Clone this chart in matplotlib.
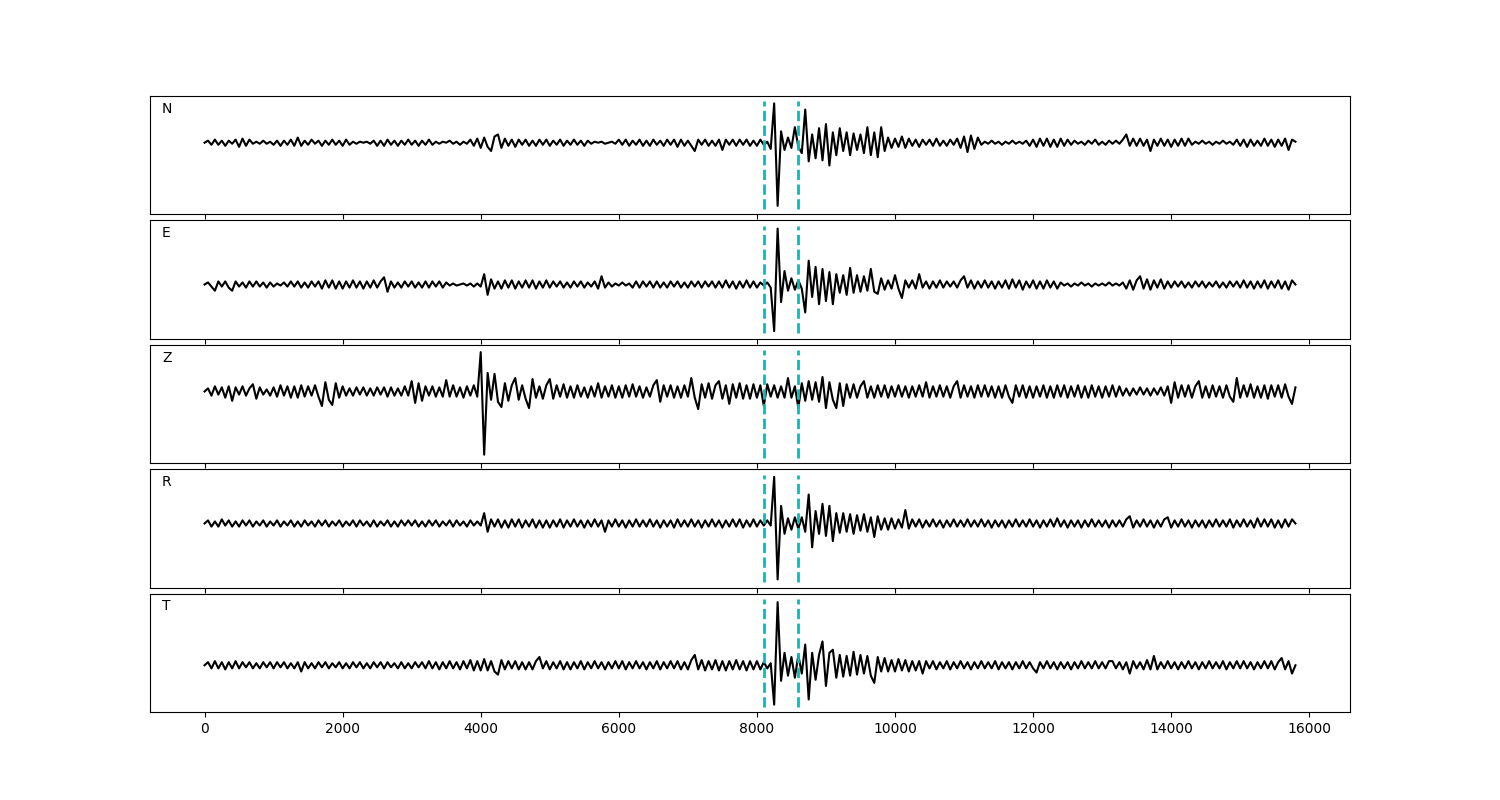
import numpy as np
import matplotlib
matplotlib.use("Agg")
import matplotlib.pyplot as plt

# sample interval of the traces (data units on the x axis)
dt = 50
channels = ["N", "E", "Z", "R", "T"]
picks = [8100, 8600]

N = [0, 2, -2, 3, -2, 2, -3, 2, -1, 3, -4, 4, -3, 3, -1, 1, -1, 2, -1, 1,
     -2, 2, -3, 2, -2, 3, -3, 5, -3, 2, -2, 3, -1, 2, -3, 2, -2, 3, -2, 2,
     -3, 3, -2, 1, -1, 1, 0, 1, -1, 2, -3, 2, -3, 3, -2, 2, -3, 2, -2, 3,
     -2, 2, -3, 2, -2, 3, -2, 1, -1, 1, 0, 2, -1, 1, -2, 1, -1, 3, -3, 4,
     -5, 5, -4, -8, 6, 8, -5, 4, -3, 3, -4, 3, -2, 3, -3, 2, -3, 3, -2, 3,
     -3, 2, -2, 3, -3, 2, -2, 3, -2, 2, -3, 2, -1, 1, 0, 1, -1, 0, 1, -1,
     3, -2, 3, -3, 2, -2, 3, -3, 2, -3, 3, -2, 2, -3, 3, -2, 3, -4, 3, -3,
     2, -3, -8, 3, -2, 3, -3, 2, -3, 3, -7, 3, -2, 3, -3, 3, -2, 3, -3, 2,
     -3, 3, -2, 1, -6, 38, -61, 11, -7, 5, -5, 15, -4, -10, 32, -18, 8, -15, 14, -17,
     18, -22, 10, -12, 14, -8, 10, -12, 9, -7, 8, -10, 15, -12, 10, -14, 15, -8, 5, -5,
     4, -4, 6, -5, 4, -3, 3, -4, 3, -2, 3, -3, 4, -3, 2, -3, 3, -2, 4, -5,
     6, -9, 7, -6, 5, -2, 1, -1, 2, -1, 1, -2, 1, -1, 2, -1, 1, -1, 2, -3,
     3, -4, 4, -3, 4, -4, 3, -4, 4, -3, 3, -2, 2, -1, 1, -2, 2, -1, 3, -2,
     1, -2, 2, -1, 2, -1, 3, 8, -3, 4, -3, 4, -3, 3, -8, 3, -3, 4, -3, 3,
     -4, 3, -3, 4, -3, 4, -2, 1, -1, 2, -1, 1, -2, 1, -1, 2, -1, 1, -2, 3,
     -3, 3, -4, 3, -3, 2, -3, 4, -3, 3, -4, 3, -3, 4, -7, 3, 1]

E = [0, 2, -2, -6, 3, -2, 3, -3, -6, 3, -2, 2, -3, 3, -2, 3, -2, 2, -3, 2,
     -2, 1, -1, 2, -2, 3, -2, 3, -3, 2, -3, 3, -2, 3, -4, 4, -3, 4, -4, 3,
     -4, 3, -3, 4, -3, 3, -4, 3, -3, 4, -3, 3, 7, -7, 3, -3, 2, -3, 3, -2,
     3, -3, 2, -3, 3, -3, 3, -2, 3, -3, 2, -1, 1, -1, 0, 1, -1, 1, -2, 1,
     -2, 10, -10, 5, -4, 3, -4, 4, -3, 4, -4, 3, -3, 4, -3, 4, -4, 3, -3, 4,
     -3, 3, -2, 3, -3, 2, -3, 3, -2, 3, -3, 2, -2, 3, -4, 8, -3, 2, -2, 1,
     -1, 2, -1, 1, -3, 3, -3, 3, -2, 3, -3, 3, -3, 2, -3, 3, -2, 3, -3, 2,
     -3, 3, -2, 3, -3, 3, -2, 3, -3, 3, -3, 4, -3, 3, -4, 3, -3, 4, -3, 3,
     -3, 2, -1, 2, -3, -45, 54, -17, 13, -6, 6, -5, 4, -4, -27, 23, -12, 17, -19, 15,
     -16, 12, -19, 10, -8, 9, -10, 16, -8, 9, -7, 8, -6, 15, -7, -9, 6, -5, 4, -4,
     9, -4, -13, 4, -3, 4, -4, 10, -3, 3, -4, 3, -3, 4, -3, 3, -2, 3, -3, 4,
     8, -3, 4, -4, 3, -3, 4, -3, 3, -4, 3, -3, 4, -4, 5, -3, 4, -5, 3, -3,
     4, -4, 3, -4, 4, -3, 3, -4, 2, -1, 1, -2, 1, -1, 2, -1, 1, -2, 1, -1,
     1, -1, 2, -1, 1, -1, 2, -4, 4, -5, 4, 8, -4, 5, -5, 4, -3, 5, -4, 3,
     -3, 3, -2, 3, -3, 2, -3, 3, -2, 3, -3, 2, -2, 3, -3, 2, -3, 3, -2, 3,
     -3, 4, -3, 3, -4, 3, -3, 4, -4, 3, -3, 4, -4, 3, -5, 4, 0]

Z = [0, 3, -4, 5, -3, 4, -6, 5, -9, 4, -3, 5, -4, 3, 7, -7, 4, -3, 2, -4,
     4, -5, 6, -4, 5, -6, 5, -6, 6, -5, 5, -4, 6, -5, -14, 9, -8, -13, 8, -6,
     5, -4, 3, -4, 4, -3, 4, -4, 3, -4, 4, -3, 4, -5, 4, -4, 3, -4, 5, -4,
     10, -11, 8, -9, 5, -4, 5, -5, 4, -5, 11, -5, 6, -5, 4, -6, 5, -4, 6, -5,
     38, -61, 18, -8, 17, -10, -15, 8, -9, 6, 13, -8, 6, -7, -16, 12, -6, 5, -7, 6,
     12, -7, 6, -5, 7, -6, 5, -6, 6, -5, 4, -6, 5, -5, 8, -6, 5, -5, 6, -6,
     5, -6, 6, -5, 7, -5, 5, -6, 4, -5, 6, 11, -10, 6, -5, 6, -6, 5, -6, 6,
     -5, 13, -6, -17, 7, -6, 8, -7, 6, 10, -7, 6, -12, 7, -6, 8, -7, 6, -7, 7,
     -6, 6, -14, 7, -5, 6, -6, 5, -6, 13, -6, 5, -16, 8, -9, 10, -8, 9, -10, 14,
     -16, 9, -8, -16, 8, -14, 7, -6, 7, -6, 5, 10, -6, 5, -6, 6, -5, 6, -6, 5,
     -5, 6, -5, 5, -6, 5, -5, 6, -5, 9, -6, 5, -5, 6, -5, 5, -6, 5, 10, -6,
     6, -5, 5, -6, 6, -5, 6, -5, 5, -6, 5, -6, 6, -5, -11, 6, -5, 6, -6, 5,
     -6, 5, -5, 6, -6, 5, -6, 6, -5, 6, -6, 5, -5, 6, -6, 5, -6, 6, -5, 5,
     -6, 5, -5, 6, -5, 5, -4, 3, -4, 3, -3, 4, -3, 3, -4, 3, -3, 4, -4, 5,
     -11, 9, -6, 6, -5, 6, -6, 5, 10, -6, 5, -6, 6, -5, 5, -6, 6, -5, -10, 13,
     -6, 6, -5, 7, -6, 5, -6, 6, -7, 6, -5, 6, -6, 7, -5, -12, 4]

R = [0, 3, -3, 2, -3, 4, -2, 3, -3, 2, -3, 3, -2, 3, -3, 2, -2, 3, -3, 2,
     -2, 3, -3, 2, -2, 3, -3, 2, -3, 3, -2, 2, -3, 3, -2, 3, -3, 2, -2, 3,
     -3, 2, -2, 3, -3, 3, -2, 2, -3, 3, -3, 2, -2, 3, -3, 2, -3, 3, -2, 3,
     -2, 3, -3, 2, -3, 3, -2, 3, -3, 2, -2, 3, -3, 3, -2, 2, -3, 3, -2, 2,
     -2, 10, -8, 4, -3, 4, -4, 3, -4, 4, -3, 4, -4, 3, -3, 4, -4, 3, -4, 3,
     -4, 3, -3, 4, -4, 3, -3, 4, -3, 3, -4, 3, -3, 4, -3, 3, -8, 3, -3, 4,
     -3, 3, -4, 3, -3, 4, -3, 3, -3, 4, -3, 3, -4, 3, -3, 3, -4, 4, -3, 3,
     -3, 4, -3, 3, -4, 3, -3, 4, -3, 3, -4, 3, -3, 4, -3, 4, -4, 3, -3, 4,
     -3, 3, -2, 3, -2, 45, -54, 17, -10, 5, -6, 6, -5, 6, -8, 28, -23, 12, -10, 19,
     -12, 17, -17, 10, -9, 10, -8, 9, -10, 8, -7, 9, -8, 6, -13, 7, -6, 5, -6, 5,
     -5, 4, -4, 13, -5, 4, -3, 4, -4, 3, -3, 4, -3, 3, -4, 3, -3, 4, -3, 3,
     -3, 4, -3, 3, -3, 4, -3, 3, -4, 3, -3, 3, -4, 3, -3, 4, -3, 3, -3, 4,
     -3, 3, -4, 3, -3, 4, -3, 5, -3, 3, -4, 3, -3, 3, -4, 3, -3, 4, -3, 3,
     -3, 3, -4, 3, -3, 3, -3, 4, 7, -4, 3, -3, 4, -3, 3, -4, 3, -3, 4, 6,
     -4, 3, -3, 4, -3, 3, -4, 3, -3, 3, -4, 3, -3, 4, -3, 3, -3, 4, -4, 3,
     -3, 4, -3, 3, -4, 5, -3, 4, -3, 4, -4, 3, -4, 4, -3, 4, 0]

T = [0, 3, -3, 4, -3, 3, -4, 3, -3, 4, -3, 3, -2, 3, -3, 2, -3, 3, -2, 3,
     -3, 3, -2, 3, -3, 2, -3, 3, -6, 3, -3, 2, -3, 3, -2, 3, -3, 2, -2, 3,
     -3, 2, -3, 3, -2, 3, -3, 2, -3, 3, -2, 3, -3, 3, -2, 2, -3, 3, -3, 2,
     -3, 3, -2, 3, -3, 4, -3, 3, -4, 3, -3, 4, -3, 3, -4, 4, -3, 5, -5, 4,
     -5, 6, -5, 4, -6, -9, 5, -4, 4, -3, 4, -4, 3, -4, 3, -4, 4, 8, -3, 4,
     -4, 3, -3, 4, -4, 3, -4, 3, -3, 4, -4, 3, -3, 4, -3, 3, -4, 3, -3, 4,
     -3, 4, -4, 3, -3, 4, -3, 3, -4, 3, -3, 4, -4, 3, -3, 4, -3, 4, -4, 3,
     -4, 5, 10, -4, 5, -5, 4, -4, 5, -5, 4, -5, 4, -4, 5, -4, 4, -5, 4, -4,
     4, -4, 3, -3, 2, -38, 61, -15, 12, -10, 8, -12, 10, -8, 20, -33, 12, -14, 10, 23,
     -20, 12, 15, -12, 10, -11, 9, -10, 13, -9, 10, -8, 9, -10, -17, 8, -6, 7, -6, 5,
     -6, 6, -5, 5, -6, 4, -5, 4, -8, 4, -3, 4, -4, 3, -3, 4, -4, 3, -3, 4,
     -3, 3, -4, 3, -3, 4, -3, 3, -3, 4, -4, 3, -3, 3, -4, 3, -3, 4, -3, 3,
     -3, -7, 3, -3, 4, -3, 3, -4, 3, -3, 3, -4, 3, -3, 4, -3, 3, -3, 4, -3,
     3, -3, 4, 4, -3, 3, -4, 3, -8, 4, -3, 3, -4, 5, -4, 9, -4, 3, -3, 4,
     -3, 3, -4, 3, -3, 4, -3, 3, -4, 3, -3, 4, -3, 3, -3, 4, -4, 3, -3, 4,
     -3, 4, -3, 3, -4, 3, -3, 4, -3, 4, -4, 3, 7, -4, 4, -8, 0]

traces = [N, E, Z, R, T]

fig, axes = plt.subplots(5, 1, figsize=(15, 8), dpi=100, sharex=True)
fig.subplots_adjust(left=0.1, right=0.9, top=0.88, bottom=0.11, hspace=0.05)

for ax, name, tr in zip(axes, channels, traces):
    y = np.asarray(tr, dtype=float)
    t = np.arange(len(y)) * dt
    ax.plot(t, y, color="black", lw=1.5)
    ax.vlines(picks, ymin=1.05 * y.min(), ymax=1.05 * y.max(),
              colors="c", linestyles="--", lw=2)
    ax.set_yticks([])
    ax.text(0.01, 0.95, name, transform=ax.transAxes, ha="left", va="top",
            fontsize=10)

axes[-1].set_xticks(np.arange(0, 16001, 2000))
fig.savefig("out.png", dpi=100)
